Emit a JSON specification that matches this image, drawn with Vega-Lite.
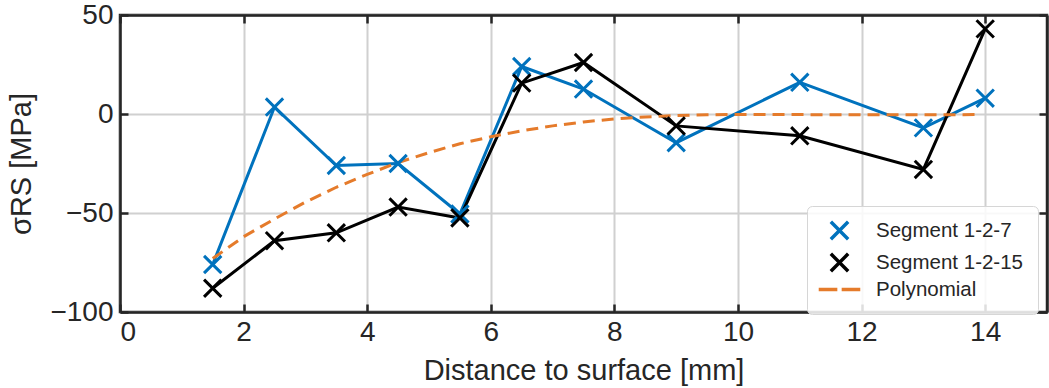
{
  "$schema": "https://vega.github.io/schema/vega-lite/v6.json",
  "width": 927,
  "height": 297,
  "autosize": {"type": "none"},
  "padding": {"left": 120, "top": 15, "right": 2, "bottom": 76},
  "background": "white",
  "config": {
    "font": "Liberation Sans",
    "view": {"stroke": "#262626", "strokeWidth": 2.5},
    "axis": {
      "domainColor": "#262626",
      "domainWidth": 2.5,
      "tickColor": "#262626",
      "tickWidth": 2.5,
      "tickSize": -8,
      "labelColor": "#262626",
      "titleColor": "#262626",
      "labelFontSize": 28,
      "titleFontSize": 29,
      "titleFontWeight": "normal",
      "gridColor": "#d0d0d0",
      "gridWidth": 2,
      "gridOpacity": 1
    }
  },
  "datasets": {
    "pts": [
      {"depth": 1.5, "stress": -76, "series": "Segment 1-2-7"},
      {"depth": 2.5, "stress": 3.5, "series": "Segment 1-2-7"},
      {"depth": 3.5, "stress": -26, "series": "Segment 1-2-7"},
      {"depth": 4.5, "stress": -25, "series": "Segment 1-2-7"},
      {"depth": 5.5, "stress": -50.5, "series": "Segment 1-2-7"},
      {"depth": 6.5, "stress": 24, "series": "Segment 1-2-7"},
      {"depth": 7.5, "stress": 12.6, "series": "Segment 1-2-7"},
      {"depth": 9, "stress": -14.5, "series": "Segment 1-2-7"},
      {"depth": 11, "stress": 16, "series": "Segment 1-2-7"},
      {"depth": 13, "stress": -7, "series": "Segment 1-2-7"},
      {"depth": 14, "stress": 8, "series": "Segment 1-2-7"},
      {"depth": 1.5, "stress": -88, "series": "Segment 1-2-15"},
      {"depth": 2.5, "stress": -64, "series": "Segment 1-2-15"},
      {"depth": 3.5, "stress": -60, "series": "Segment 1-2-15"},
      {"depth": 4.5, "stress": -47, "series": "Segment 1-2-15"},
      {"depth": 5.5, "stress": -52.5, "series": "Segment 1-2-15"},
      {"depth": 6.5, "stress": 15.6, "series": "Segment 1-2-15"},
      {"depth": 7.5, "stress": 26, "series": "Segment 1-2-15"},
      {"depth": 9, "stress": -6, "series": "Segment 1-2-15"},
      {"depth": 11, "stress": -11, "series": "Segment 1-2-15"},
      {"depth": 13, "stress": -28, "series": "Segment 1-2-15"},
      {"depth": 14, "stress": 43, "series": "Segment 1-2-15"}
    ],
    "poly": [
      {"depth": 1.5, "stress": -73},
      {"depth": 2.0, "stress": -62},
      {"depth": 2.5, "stress": -53},
      {"depth": 3.0, "stress": -44.5},
      {"depth": 3.5, "stress": -37},
      {"depth": 4.0, "stress": -30.5},
      {"depth": 4.5, "stress": -24.5},
      {"depth": 5.0, "stress": -19.5},
      {"depth": 5.5, "stress": -15},
      {"depth": 6.0, "stress": -11.5},
      {"depth": 6.5, "stress": -8.5},
      {"depth": 7.0, "stress": -6},
      {"depth": 7.5, "stress": -4},
      {"depth": 8.0, "stress": -2.5},
      {"depth": 8.5, "stress": -1.5},
      {"depth": 9.0, "stress": -0.8},
      {"depth": 9.5, "stress": -0.4},
      {"depth": 10.0, "stress": -0.2},
      {"depth": 11.0, "stress": -0.3},
      {"depth": 12.0, "stress": -0.4},
      {"depth": 13.0, "stress": -0.4},
      {"depth": 13.9, "stress": -0.3}
    ]
  },
  "resolve": {"axis": {"x": "independent", "y": "independent"}},
  "layer": [
    {
      "data": {"name": "pts"},
      "mark": {"type": "line", "strokeWidth": 3},
      "encoding": {
        "x": {
          "field": "depth", "type": "quantitative",
          "scale": {"domain": [0, 15], "nice": false},
          "axis": {"orient": "bottom", "values": [0, 2, 4, 6, 8, 10, 12, 14], "grid": true, "title": "Distance to surface [mm]", "labelPadding": 14, "titlePadding": 10}
        },
        "y": {
          "field": "stress", "type": "quantitative",
          "scale": {"domain": [-100, 50], "nice": false},
          "axis": {"orient": "left", "values": [-100, -50, 0, 50], "grid": true, "title": "σRS [MPa]", "labelPadding": 15, "titlePadding": 13}
        },
        "color": {
          "field": "series", "type": "nominal",
          "scale": {"domain": ["Segment 1-2-7", "Segment 1-2-15", "Polynomial"], "range": ["#0072BD", "#000000", "#E57B2B"]},
          "legend": {
            "title": null,
            "orient": "none",
            "legendX": 687,
            "legendY": 191,
            "labelFontSize": 20.5,
            "labelColor": "#262626",
            "symbolStrokeWidth": 3.5,
            "symbolSize": 300,
            "symbolFillColor": "transparent",
            "rowPadding": -1,
            "padding": 14,
            "labelOffset": 26,
            "symbolOffset": 8,
            "fillColor": "rgba(255,255,255,0.85)",
            "strokeColor": "#d6d6d6",
            "cornerRadius": 5
          }
        }
      }
    },
    {
      "data": {"name": "poly"},
      "mark": {"type": "line", "strokeWidth": 3, "color": "#E57B2B", "strokeDash": [12, 7]},
      "encoding": {
        "x": {"field": "depth", "type": "quantitative", "axis": null},
        "y": {"field": "stress", "type": "quantitative", "axis": null}
      }
    },
    {
      "data": {"name": "pts"},
      "mark": {"type": "point", "filled": false, "strokeWidth": 3, "size": 300, "opacity": 1},
      "encoding": {
        "x": {
          "field": "depth", "type": "quantitative",
          "axis": {"orient": "top", "values": [0, 2, 4, 6, 8, 10, 12, 14], "labels": false, "grid": false, "title": null}
        },
        "y": {
          "field": "stress", "type": "quantitative",
          "axis": {"orient": "right", "values": [-100, -50, 0, 50], "labels": false, "grid": false, "title": null}
        },
        "color": {
          "field": "series", "type": "nominal",
          "scale": {"domain": ["Segment 1-2-7", "Segment 1-2-15", "Polynomial"], "range": ["#0072BD", "#000000", "#E57B2B"]}
        },
        "shape": {
          "field": "series", "type": "nominal",
          "scale": {"domain": ["Segment 1-2-7", "Segment 1-2-15", "Polynomial"], "range": ["M-1,-1L1,1M-1,1L1,-1", "M-1,-1L1,1M-1,1L1,-1", "M-2.4,0H-0.25M0.25,0H2.4"]}
        }
      }
    },
    {
      "mark": {"type": "rule", "color": "#000000", "strokeWidth": 3},
      "encoding": {
        "y": {"datum": 0, "type": "quantitative", "axis": null}
      }
    }
  ]
}
